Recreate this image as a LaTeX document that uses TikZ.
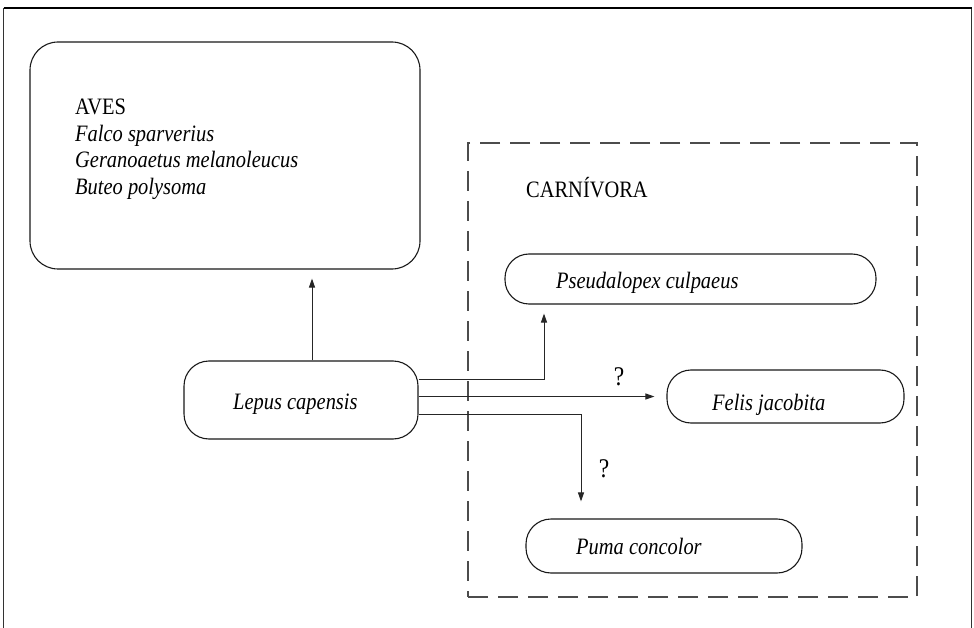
\documentclass[tikz,border=0pt]{standalone}
\usepackage{fontspec}
\setmainfont{Liberation Serif}[FakeStretch=0.87]
\usetikzlibrary{arrows.meta}
\begin{document}
\begin{tikzpicture}[x=1pt,y=-1pt,
  box/.style={draw=black!90, line width=1.1pt, rounded corners=#1, inner sep=0pt},
  box/.default=25pt,
  hd/.style={anchor=base west, inner sep=0pt, font=\fontsize{23.5}{27}\selectfont},
  sp/.style={anchor=base west, inner sep=0pt, font=\fontsize{23.5}{27}\selectfont\itshape},
  qm/.style={anchor=base, inner sep=0pt, font=\fontsize{27}{29}\selectfont},
  arr/.style={draw=black!85, line width=1pt, -{Triangle[length=9pt,width=6pt]}},
  group/.style={draw=black!70, line width=1.1pt, dash pattern=on 20pt off 10pt, inner sep=0pt}]
\useasboundingbox (0,0) rectangle (974,628);

% outer frame, open at the bottom
\coordinate (fbl) at (3.5,628);
\coordinate (ftl) at (3.5,8);
\coordinate (ftr) at (971.5,8);
\coordinate (fbr) at (971.5,628);
\draw[black!80, line width=0.8pt] (fbl) -- (ftl);
\draw[black!80, line width=0.8pt] (ftr) -- (fbr);
\draw[black, line width=1.4pt] (ftl) -- (ftr);

% predators: birds
\node[box=28pt, minimum width=390pt, minimum height=227pt] (aves) at (225,155.5) {};
\node[hd] (avesT) at (75,115) {AVES};
\node[sp] (falco) at (75,142) {Falco sparverius};
\node[sp] (geran) at (75,168) {Geranoaetus melanoleucus};
\node[sp] (buteo) at (75,195) {Buteo polysoma};

% predators: carnivores
\node[group, minimum width=449pt, minimum height=454pt] (carn) at (692.5,370) {};
\node[hd] (carnT) at (526,198) {CARNÍVORA};

\node[box=24pt, minimum width=371pt, minimum height=50pt] (pseud) at (690.5,279) {};
\node[sp] (pseudT) at (556,288) {Pseudalopex culpaeus};

\node[box=24pt, minimum width=237pt, minimum height=53pt] (felis) at (785.5,396.5) {};
\node[sp] (felisT) at (712,410) {Felis jacobita};

\node[box=25pt, minimum width=276pt, minimum height=54pt] (puma) at (664,546) {};
\node[sp] (pumaT) at (576,554) {Puma concolor};

% prey
\node[box=25pt, minimum width=234pt, minimum height=78pt] (lepus) at (301,400) {};
\node[sp] (lepusT) at (233,409) {Lepus capensis};

% predation links
\draw[arr, shorten >=9pt] ([xshift=11pt]lepus.north) -- ([xshift=11pt]lepus.north |- aves.south);
\draw[arr, shorten >=9pt] ([yshift=21pt]lepus.east) -| ([xshift=-146.5pt]pseud.south);
\draw[arr, shorten >=12pt] (lepus.east |- felis.west) -- (felis.west);
\draw[arr, shorten >=17pt] ([yshift=-14pt]lepus.east) -| ([xshift=-83pt]puma.north);

\node[qm] (q1) at (619,385) {?};
\node[qm] (q2) at (604,477) {?};
\end{tikzpicture}
\end{document}
